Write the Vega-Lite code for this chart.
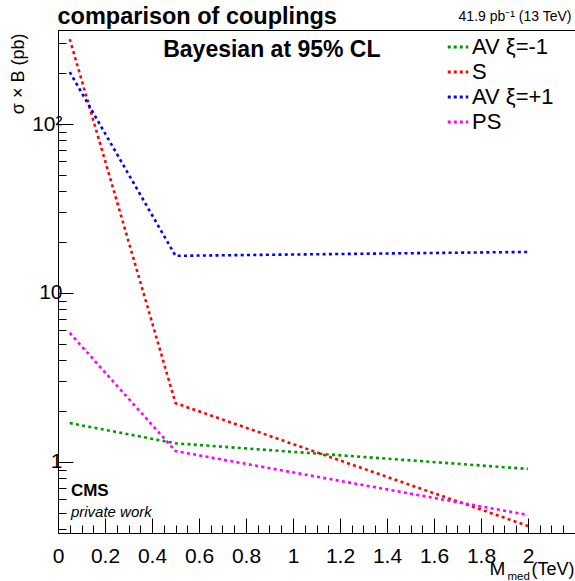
{
  "$schema": "https://vega.github.io/schema/vega-lite/v6.json",
  "width": 517,
  "height": 503,
  "autosize": {"type": "none"},
  "padding": {"left": 58, "top": 30, "right": 0, "bottom": 48},
  "background": "white",
  "config": {"view": {"stroke": "black", "strokeWidth": 1}, "font": "Liberation Sans", "axis": {"zindex": 2}},
  "datasets": {
    "limits": [
      {"m": 0.05, "xs": 1.70, "c": "AV ξ=-1"},
      {"m": 0.5, "xs": 1.29, "c": "AV ξ=-1"},
      {"m": 2.0, "xs": 0.91, "c": "AV ξ=-1"},
      {"m": 0.05, "xs": 318, "c": "S"},
      {"m": 0.5, "xs": 2.23, "c": "S"},
      {"m": 2.0, "xs": 0.418, "c": "S"},
      {"m": 0.05, "xs": 203, "c": "AV ξ=+1"},
      {"m": 0.5, "xs": 16.6, "c": "AV ξ=+1"},
      {"m": 2.0, "xs": 17.5, "c": "AV ξ=+1"},
      {"m": 0.05, "xs": 5.8, "c": "PS"},
      {"m": 0.5, "xs": 1.16, "c": "PS"},
      {"m": 2.0, "xs": 0.486, "c": "PS"}
    ]
  },
  "data": {"name": "limits"},
  "resolve": {"axis": {"x": "independent", "y": "independent"}},
  "layer": [
    {
      "mark": {"type": "line", "strokeWidth": 2.6, "strokeDash": [3, 3.3], "strokeCap": "butt"},
      "encoding": {
        "x": {
          "field": "m", "type": "quantitative",
          "scale": {"domain": [0, 2.2], "nice": false, "zero": false},
          "axis": {
            "orient": "bottom",
            "values": [0, 0.2, 0.4, 0.6, 0.8, 1, 1.2, 1.4, 1.6, 1.8, 2],
            "labelExpr": "'' + datum.value",
            "grid": false, "domain": true, "ticks": true, "tickSize": -15, "tickWidth": 1, "tickColor": "black", "domainColor": "black", "domainWidth": 1,
            "labelFontSize": 21, "labelColor": "black", "labelPadding": 27,
            "labelFlush": false, "labelOverlap": false,
            "title": null
          }
        },
        "y": {
          "field": "xs", "type": "quantitative",
          "scale": {"type": "log", "domain": [0.38, 360], "nice": false},
          "axis": {
            "orient": "left",
            "values": [1, 10, 100],
            "labelExpr": "datum.value == 100 ? '10²' : '' + datum.value",
            "grid": false, "domain": true, "ticks": true, "tickSize": -15, "tickWidth": 1, "tickColor": "black", "domainColor": "black", "domainWidth": 1,
            "labelFontSize": 21, "labelColor": "black", "labelPadding": 11,
            "labelFlush": false, "labelOverlap": false,
            "title": null
          }
        },
        "color": {
          "field": "c", "type": "nominal",
          "scale": {"domain": ["AV ξ=-1", "S", "AV ξ=+1", "PS"], "range": ["#009900", "#ff0000", "#0000ff", "#ff00ff"]},
          "legend": {
            "title": null, "orient": "none", "legendX": 388, "legendY": 5,
            "symbolType": "stroke", "symbolSize": 420, "symbolStrokeWidth": 3, "symbolDash": [3, 3],
            "labelFontSize": 22, "labelColor": "black", "labelFont": "Liberation Sans",
            "labelOffset": 2, "rowPadding": 2, "padding": 0
          }
        }
      }
    },
    {
      "mark": {"type": "line", "opacity": 0},
      "encoding": {
        "x": {
          "field": "m", "type": "quantitative",
          "axis": {
            "orient": "bottom",
            "values": [0.05, 0.1, 0.15, 0.25, 0.3, 0.35, 0.45, 0.5, 0.55, 0.65, 0.7, 0.75, 0.85, 0.9, 0.95, 1.05, 1.1, 1.15, 1.25, 1.3, 1.35, 1.45, 1.5, 1.55, 1.65, 1.7, 1.75, 1.85, 1.9, 1.95, 2.05, 2.1, 2.15],
            "grid": false, "labels": false, "domain": false, "ticks": true, "tickSize": -8, "tickWidth": 1, "tickColor": "black",
            "title": null
          }
        },
        "y": {
          "field": "xs", "type": "quantitative",
          "axis": {
            "orient": "left",
            "values": [0.4, 0.5, 0.6, 0.7, 0.8, 0.9, 2, 3, 4, 5, 6, 7, 8, 9, 20, 30, 40, 50, 60, 70, 80, 90, 200, 300],
            "grid": false, "labels": false, "domain": false, "ticks": true, "tickSize": -8, "tickWidth": 1, "tickColor": "black",
            "title": null
          }
        },
        "detail": {"field": "c", "type": "nominal"}
      }
    },
    {
      "data": {"values": [{"label": "Bayesian at 95% CL"}]},
      "mark": {"type": "text", "fontSize": 23, "fontWeight": "bold", "align": "center", "baseline": "middle", "color": "black"},
      "encoding": {
        "x": {
          "datum": 0.91, "type": "quantitative",
          "axis": {
            "orient": "top", "domain": true, "domainColor": "black", "domainWidth": 1, "ticks": false, "labels": false, "grid": false,
            "title": null
          }
        },
        "y": {
          "datum": 276, "type": "quantitative",
          "axis": {
            "orient": "left", "domain": false, "ticks": false, "labels": false, "grid": false,
            "title": "σ × B (pb)", "titleFontSize": 18, "titleFontWeight": "normal", "titleColor": "black",
            "titleAngle": 270, "titleAlign": "right", "titleBaseline": "middle",
            "titleX": -40, "titleY": 3
          }
        },
        "text": {"field": "label"}
      }
    },
    {
      "data": {"values": [{"label": "CMS"}]},
      "mark": {"type": "text", "fontSize": 17, "fontWeight": "bold", "align": "left", "baseline": "middle", "color": "black"},
      "encoding": {
        "x": {
          "datum": 0.055, "type": "quantitative",
          "axis": {
            "orient": "top", "domain": false, "ticks": false, "labels": false, "grid": false,
            "title": "comparison of couplings", "titleFontSize": 23.5, "titleFontWeight": "bold", "titleColor": "black",
            "titleAlign": "left", "titleX": -1, "titleY": -7, "titleBaseline": "alphabetic"
          }
        },
        "y": {"datum": 0.674, "type": "quantitative", "axis": null},
        "text": {"field": "label"}
      }
    },
    {
      "data": {"values": [{"label": "private work"}]},
      "mark": {"type": "text", "fontSize": 15, "fontStyle": "italic", "align": "left", "baseline": "middle", "color": "black"},
      "encoding": {
        "x": {
          "datum": 0.055, "type": "quantitative",
          "axis": {
            "orient": "bottom", "domain": false, "ticks": false, "labels": false, "grid": false,
            "title": "M", "titleFontSize": 19, "titleFontWeight": "normal", "titleColor": "black",
            "titleAlign": "left", "titleX": 431, "titleY": 41, "titleBaseline": "alphabetic"
          }
        },
        "y": {"datum": 0.506, "type": "quantitative", "axis": null},
        "text": {"field": "label"}
      }
    },
    {
      "data": {"values": [{"label": ""}]},
      "mark": {"type": "text", "fontSize": 10},
      "encoding": {
        "x": {
          "datum": 1, "type": "quantitative",
          "axis": {
            "orient": "bottom", "domain": false, "ticks": false, "labels": false, "grid": false,
            "title": "med", "titleFontSize": 11.5, "titleFontWeight": "normal", "titleColor": "black",
            "titleAlign": "left", "titleX": 449, "titleY": 46, "titleBaseline": "alphabetic"
          }
        },
        "y": {"datum": 1, "type": "quantitative", "axis": null},
        "text": {"field": "label"}
      }
    },
    {
      "data": {"values": [{"label": ""}]},
      "mark": {"type": "text", "fontSize": 10},
      "encoding": {
        "x": {
          "datum": 1, "type": "quantitative",
          "axis": {
            "orient": "bottom", "domain": false, "ticks": false, "labels": false, "grid": false,
            "title": "(TeV)", "titleFontSize": 18, "titleFontWeight": "normal", "titleColor": "black",
            "titleAlign": "right", "titleX": 516, "titleY": 41, "titleBaseline": "alphabetic"
          }
        },
        "y": {"datum": 1, "type": "quantitative", "axis": null},
        "text": {"field": "label"}
      }
    },
    {
      "data": {"values": [{"label": ""}]},
      "mark": {"type": "text", "fontSize": 10},
      "encoding": {
        "x": {
          "datum": 1, "type": "quantitative",
          "axis": {
            "orient": "top", "domain": false, "ticks": false, "labels": false, "grid": false,
            "title": "41.9 pb⁻¹ (13 TeV)", "titleFontSize": 14, "titleFontWeight": "normal", "titleColor": "black",
            "titleAlign": "right", "titleX": 513, "titleY": -10, "titleBaseline": "alphabetic"
          }
        },
        "y": {"datum": 1, "type": "quantitative", "axis": null},
        "text": {"field": "label"}
      }
    }
  ]
}
